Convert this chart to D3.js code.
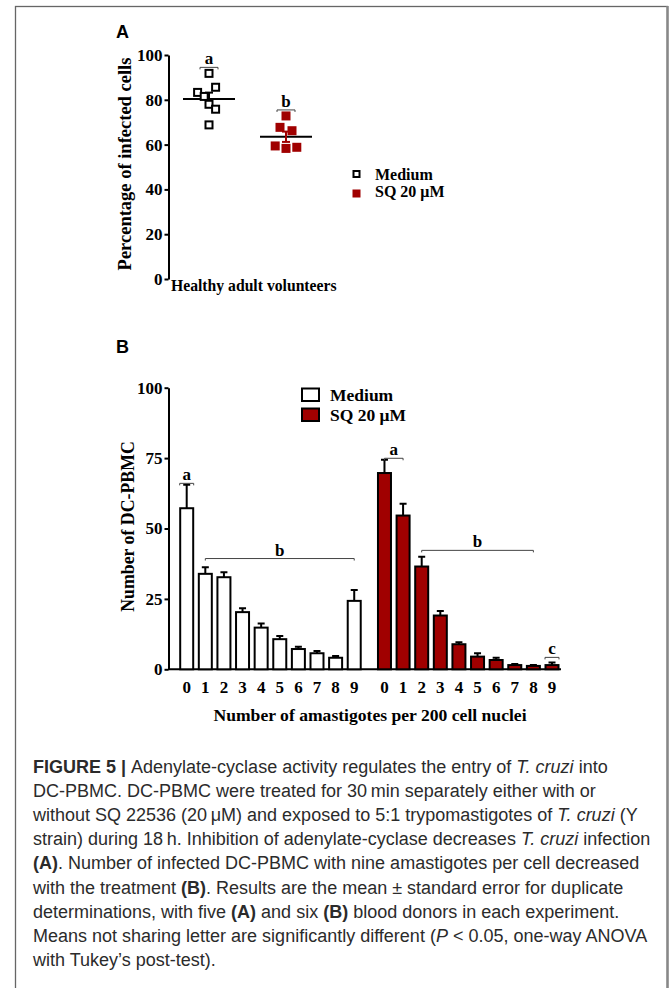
<!DOCTYPE html>
<html><head><meta charset="utf-8">
<script src="https://cdn.jsdelivr.net/npm/d3@7"></script>
<style>
html,body{margin:0;padding:0;background:#fff;}
svg{display:block;}
</style></head>
<body>
<script>
// ---------- DATA ----------
// Panel A: percentage of infected cells (scatter dot plot)
const groupsA = ["Medium", "SQ 20 μM"];
const mediumPoints = [91.8, 85.6, 83.3, 81.5, 78.0, 75.8, 68.8];
const mediumJitter = [0, 1.1, -1.9, -0.8, 0, 1.1, 0];
const sqPoints = [72.8, 67.7, 66.2, 59.4, 58.3, 58.8];
const sqJitter = [0, -1, 1, -1.8, 0, 1.8];
const meansA = [80.4, 63.5];
const semA = [2.8, 2.3];
const lettersA = ["a", "b"];
const ticksA = [0, 20, 40, 60, 80, 100];

// Panel B: number of DC-PBMC per amastigote count
const amastigotes = [0, 1, 2, 3, 4, 5, 6, 7, 8, 9];
const mediumBars = [57.2, 33.9, 32.7, 20.3, 14.8, 10.7, 7.2, 5.7, 4.1, 24.3];
const mediumErr  = [8.3, 2.3, 1.8, 1.4, 1.5, 1.1, 0.8, 0.8, 0.6, 3.9];
const sqBars = [69.7, 54.6, 36.5, 19.1, 8.9, 4.5, 3.3, 1.5, 1.2, 1.5];
const sqErr  = [4.7, 4.2, 3.5, 1.6, 0.7, 1.2, 0.8, 0.4, 0.3, 0.9];
const ticksB = [0, 25, 50, 75, 100];

const RED = "#a00000";
const SERIF = "'Liberation Serif','Times New Roman',serif";
const SANS = "'Liberation Sans',Arial,Helvetica,sans-serif";

const W = 671, H = 988;
const svg = d3.select("body").append("svg").attr("width", W).attr("height", H);

// frame
svg.append("rect").attr("x", 15.5).attr("y", 6.5).attr("width", 652).attr("height", 1000)
  .attr("fill", "none").attr("stroke", "#666").attr("stroke-width", 1.3);
svg.append("line").attr("x1", 667.5).attr("x2", 667.5).attr("y1", 6).attr("y2", H)
  .attr("stroke", "#888").attr("stroke-width", 2.5);

// ---------- PANEL A ----------
svg.append("text").attr("x", 116).attr("y", 37.5).attr("font-family", SANS)
  .attr("font-weight", "bold").attr("font-size", 18).text("A");

const yA = d3.scaleLinear().domain([0, 100]).range([279, 55]);
const xA = d3.scalePoint().domain(groupsA).range([209, 286]);
const jit = d3.scaleLinear().domain([-1, 1]).range([-6, 6]);

const axA = svg.append("g").attr("transform", "translate(168.5,0)")
  .call(d3.axisLeft(yA).tickValues(ticksA).tickSize(4).tickPadding(2).tickSizeOuter(0));
axA.select(".domain").attr("stroke-width", 2);
axA.selectAll(".tick line").attr("stroke-width", 2);
axA.selectAll(".tick text").attr("font-family", SERIF).attr("font-weight", "bold")
  .attr("font-size", 17).attr("fill", "#000");

svg.append("text").attr("transform", `translate(131,${(yA(0) + yA(100)) / 2 - 3}) rotate(-90)`)
  .attr("text-anchor", "middle").attr("font-family", SERIF).attr("font-weight", "bold")
  .attr("font-size", 18.5).text("Percentage of infected cells");

svg.append("text").attr("x", 171).attr("y", 291).attr("font-family", SERIF)
  .attr("font-weight", "bold").attr("font-size", 15.7).text("Healthy adult volunteers");

// mean + sem lines
groupsA.forEach((g, i) => {
  const cx = xA(g);
  svg.append("line").attr("x1", cx - 26).attr("x2", cx + 26)
    .attr("y1", yA(meansA[i])).attr("y2", yA(meansA[i])).attr("stroke", "#000").attr("stroke-width", 2);
  svg.append("line").attr("x1", cx).attr("x2", cx)
    .attr("y1", yA(meansA[i] - semA[i])).attr("y2", yA(meansA[i] + semA[i]))
    .attr("stroke", i ? RED : "#000").attr("stroke-width", 2);
  [meansA[i] - semA[i], meansA[i] + semA[i]].forEach(v => {
    svg.append("line").attr("x1", cx - 4).attr("x2", cx + 4).attr("y1", yA(v)).attr("y2", yA(v))
      .attr("stroke", i ? RED : "#000").attr("stroke-width", 2);
  });
});

// points
svg.append("g").selectAll("rect").data(mediumPoints).join("rect")
  .attr("x", (d, i) => xA(groupsA[0]) + jit(mediumJitter[i]) - 3.5)
  .attr("y", d => yA(d) - 3.5).attr("width", 7).attr("height", 7)
  .attr("fill", "#fff").attr("stroke", "#000").attr("stroke-width", 2);
svg.append("g").selectAll("rect").data(sqPoints).join("rect")
  .attr("x", (d, i) => xA(groupsA[1]) + jit(sqJitter[i]) - 4.5)
  .attr("y", d => yA(d) - 4.5).attr("width", 9).attr("height", 9)
  .attr("fill", RED);

// letters A
const letterTopA = [mediumPoints, sqPoints].map(a => d3.max(a));
groupsA.forEach((g, i) => {
  const cx = xA(g), ly = yA(letterTopA[i]) - 6;
  svg.append("path").attr("d", `M${cx - 9},${ly + 2}V${ly}H${cx + 9}V${ly + 2}`)
    .attr("fill", "none").attr("stroke", "#444").attr("stroke-width", 1);
  svg.append("text").attr("x", cx).attr("y", ly - 3).attr("text-anchor", "middle")
    .attr("font-family", SERIF).attr("font-weight", "bold").attr("font-size", 17).text(lettersA[i]);
});

// legend A
svg.append("rect").attr("x", 353.5).attr("y", 171).attr("width", 6).attr("height", 6)
  .attr("fill", "#fff").attr("stroke", "#000").attr("stroke-width", 2);
svg.append("rect").attr("x", 352.5).attr("y", 189.5).attr("width", 8).attr("height", 8).attr("fill", RED);
svg.append("text").attr("x", 375).attr("y", 179.5).attr("font-family", SERIF).attr("font-weight", "bold")
  .attr("font-size", 16).text(groupsA[0]);
svg.append("text").attr("x", 375).attr("y", 197).attr("font-family", SERIF).attr("font-weight", "bold")
  .attr("font-size", 16).text(groupsA[1]);

// ---------- PANEL B ----------
svg.append("text").attr("x", 116).attr("y", 353).attr("font-family", SANS)
  .attr("font-weight", "bold").attr("font-size", 18).text("B");

const yB = d3.scaleLinear().domain([0, 100]).range([669.3, 387.7]);
const GAP = 10.625;
const xB = d3.scaleLinear().domain([0, 9 + GAP]).range([186.7, 552]);
const BW = 13;

const axB = svg.append("g").attr("transform", "translate(168.5,0)")
  .call(d3.axisLeft(yB).tickValues(ticksB).tickSize(4).tickPadding(2).tickSizeOuter(0));
axB.select(".domain").attr("stroke-width", 2);
axB.selectAll(".tick line").attr("stroke-width", 2);
axB.selectAll(".tick text").attr("font-family", SERIF).attr("font-weight", "bold")
  .attr("font-size", 17).attr("fill", "#000");

svg.append("line").attr("x1", 168).attr("x2", 561).attr("y1", yB(0)).attr("y2", yB(0))
  .attr("stroke", "#000").attr("stroke-width", 2);

svg.append("text").attr("transform", `translate(134,${(yB(0) + yB(100)) / 2 - 2}) rotate(-90)`)
  .attr("text-anchor", "middle").attr("font-family", SERIF).attr("font-weight", "bold")
  .attr("font-size", 17.8).text("Number of DC-PBMC");

svg.append("text").attr("x", 370).attr("y", 721).attr("text-anchor", "middle").attr("font-family", SERIF)
  .attr("font-weight", "bold").attr("font-size", 17.6).text("Number of amastigotes per 200 cell nuclei");

const seriesB = [
  {vals: mediumBars, err: mediumErr, off: 0, fill: "#fff"},
  {vals: sqBars, err: sqErr, off: GAP, fill: RED}
];
seriesB.forEach(s => {
  const g = svg.append("g");
  // error bars (upward)
  g.selectAll("path.err").data(amastigotes).join("path").attr("class", "err")
    .attr("d", (d, i) => {
      const cx = xB(d + s.off), y1 = yB(s.vals[i]), y2 = yB(s.vals[i] + s.err[i]);
      return `M${cx},${y1}V${y2}M${cx - 3.5},${y2}H${cx + 3.5}`;
    }).attr("stroke", "#000").attr("stroke-width", 2).attr("fill", "none");
  g.selectAll("rect").data(amastigotes).join("rect")
    .attr("x", d => xB(d + s.off) - BW / 2)
    .attr("y", (d, i) => yB(s.vals[i]))
    .attr("width", BW)
    .attr("height", (d, i) => yB(0) - yB(s.vals[i]))
    .attr("fill", s.fill).attr("stroke", "#000").attr("stroke-width", 2);
  g.selectAll("text").data(amastigotes).join("text")
    .attr("x", d => xB(d + s.off)).attr("y", 692.5).attr("text-anchor", "middle")
    .attr("font-family", SERIF).attr("font-weight", "bold").attr("font-size", 17).text(d => d);
});

// significance brackets B
const bracketsB = [
  {from: 0, to: 0, off: 0, val: mediumBars[0] + mediumErr[0], letter: "a", half: 7},
  {from: 1, to: 9, off: 0, val: 38.8, letter: "b", half: 0},
  {from: 0, to: 1, off: GAP, val: sqBars[0] + sqErr[0], letter: "a", half: 0},
  {from: 2, to: 8, off: GAP, val: 41.7, letter: "b", half: 0},
  {from: 9, to: 9, off: GAP, val: sqBars[9] + sqErr[9] + 1.3, letter: "c", half: 7}
];
bracketsB.forEach(b => {
  const x1 = xB(b.from + b.off) - b.half, x2 = xB(b.to + b.off) + b.half;
  const ly = yB(b.val) - 1.5;
  svg.append("path").attr("d", `M${x1},${ly + 2}V${ly}H${x2}V${ly + 2}`)
    .attr("fill", "none").attr("stroke", "#444").attr("stroke-width", 1);
  svg.append("text").attr("x", (x1 + x2) / 2).attr("y", ly - 3).attr("text-anchor", "middle")
    .attr("font-family", SERIF).attr("font-weight", "bold").attr("font-size", 17).text(b.letter);
});

// legend B
svg.append("rect").attr("x", 302).attr("y", 388.5).attr("width", 17).attr("height", 12.5)
  .attr("fill", "#fff").attr("stroke", "#000").attr("stroke-width", 2);
svg.append("rect").attr("x", 302).attr("y", 408.5).attr("width", 17).attr("height", 12.5)
  .attr("fill", RED).attr("stroke", "#000").attr("stroke-width", 2);
svg.append("text").attr("x", 330).attr("y", 401).attr("font-family", SERIF).attr("font-weight", "bold")
  .attr("font-size", 17.5).text("Medium");
svg.append("text").attr("x", 330).attr("y", 420.5).attr("font-family", SERIF).attr("font-weight", "bold")
  .attr("font-size", 17.5).text("SQ 20 μM");

// ---------- CAPTION ----------
const caption = [
  [["FIGURE 5 | ", "b"], ["Adenylate-cyclase activity regulates the entry of ", ""], ["T. cruzi", "i"], [" into", ""]],
  [["DC-PBMC. DC-PBMC were treated for 30\u2009min separately either with or", ""]],
  [["without SQ 22536 (20\u2009\u03bcM) and exposed to 5:1 trypomastigotes of ", ""], ["T. cruzi", "i"], [" (Y", ""]],
  [["strain) during 18\u2009h. Inhibition of adenylate-cyclase decreases ", ""], ["T. cruzi", "i"], [" infection", ""]],
  [["(A)", "b"], [". Number of infected DC-PBMC with nine amastigotes per cell decreased", ""]],
  [["with the treatment ", ""], ["(B)", "b"], [". Results are the mean \u00b1 standard error for duplicate", ""]],
  [["determinations, with five ", ""], ["(A)", "b"], [" and six ", ""], ["(B)", "b"], [" blood donors in each experiment.", ""]],
  [["Means not sharing letter are significantly different (", ""], ["P", "i"], [" < 0.05, one-way ANOVA", ""]],
  [["with Tukey\u2019s post-test).", ""]]
];
const capG = svg.append("g").attr("font-family", SANS).attr("font-size", 18).attr("fill", "#2b2b2b");
caption.forEach((line, i) => {
  const t = capG.append("text").attr("x", 33).attr("y", 773 + i * 24.1);
  line.forEach(([s, st]) => {
    const sp = t.append("tspan").text(s);
    if (st === "b") sp.attr("font-weight", "bold");
    if (st === "i") sp.attr("font-style", "italic");
  });
});
</script>
</body></html>
